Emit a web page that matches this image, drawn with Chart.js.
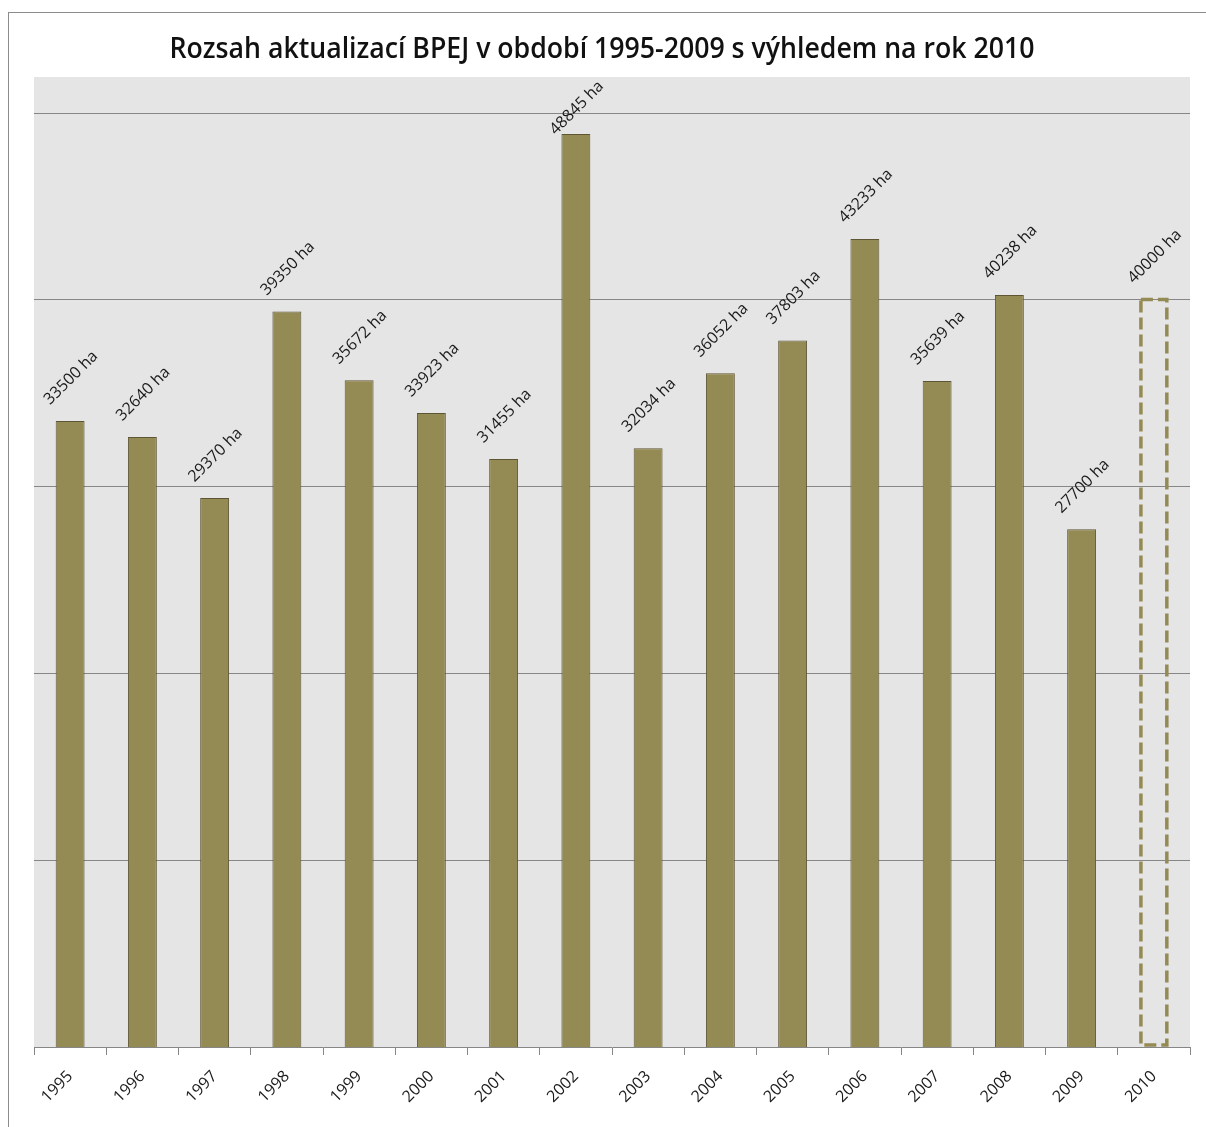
<!DOCTYPE html>
<html>
<head>
<meta charset="utf-8">
<script src="https://cdn.jsdelivr.net/npm/chart.js@4"></script>
<style>
  html, body { margin: 0; padding: 0; background: #fff; }
</style>
</head>
<body>
<canvas id="chart" width="1206" height="1127"></canvas>
<script>
const chartTitle = 'Rozsah aktualizací BPEJ v období 1995-2009 s výhledem na rok 2010';
const years = ['1995', '1996', '1997', '1998', '1999', '2000', '2001', '2002',
               '2003', '2004', '2005', '2006', '2007', '2008', '2009', '2010'];
const areas = [33500, 32640, 29370, 39350, 35672, 33923, 31455, 48845,
               32034, 36052, 37803, 43233, 35639, 40238, 27700, 40000];
const gridValues = [10000, 20000, 30000, 40000, 50000];
const planYear = '2010';
const unit = ' ha';
const yMax = 51900;

const planIdx = years.indexOf(planYear);
const olive = '#948a54';

// frame, plot background, gridlines, title, dashed forecast bar, value labels
const decor = {
    id: 'decor',
    beforeDraw(chart) {
        const c = chart.ctx, a = chart.chartArea;
        const y = chart.scales.y;
        c.save();
        c.fillStyle = '#fff';
        c.fillRect(0, 0, chart.width, chart.height);
        c.strokeStyle = '#8c8c8c';
        c.lineWidth = 1;
        c.strokeRect(8.5, 12.5, chart.width + 20, chart.height + 20);
        c.fillStyle = '#e5e5e5';
        c.fillRect(a.left, a.top, a.right - a.left, a.bottom - a.top);

        // horizontal gridlines
        c.strokeStyle = '#878787';
        c.lineWidth = 1;
        gridValues.forEach(v => {
            const py = Math.round(y.getPixelForValue(v)) + 0.5;
            c.beginPath();
            c.moveTo(a.left, py);
            c.lineTo(a.right, py);
            c.stroke();
        });

        c.font = '600 28px "Open Sans"';
        c.fillStyle = '#111';
        c.textAlign = 'center';
        c.textBaseline = 'alphabetic';
        const w = c.measureText(chartTitle).width;
        const sx = Math.min(1, 865 / w);
        c.translate(602, 58);
        c.scale(sx, 1);
        c.fillText(chartTitle, 0, 0);
        c.restore();
    },
    afterDatasetsDraw(chart) {
        const c = chart.ctx, a = chart.chartArea;
        const meta = chart.getDatasetMeta(0);
        c.save();
        const plan = meta.data[planIdx];
        if (plan) {
            const p = plan.getProps(['x', 'y', 'width', 'base'], true);
            c.strokeStyle = olive;
            c.lineWidth = 3.5;
            c.setLineDash([12, 5]);
            c.strokeRect(p.x - p.width / 2 + 1.5, p.y, p.width - 3, p.base - p.y - 2);
            c.setLineDash([]);
        }
        c.font = '16px "Open Sans"';
        c.fillStyle = '#1a1a1a';
        c.textAlign = 'center';
        c.textBaseline = 'middle';
        meta.data.forEach((bar, i) => {
            const p = bar.getProps(['x', 'y'], true);
            const cy = Math.max(p.y - 43, a.top + 31);
            c.save();
            c.translate(p.x + 1, cy);
            c.rotate(-Math.PI / 4);
            c.fillText(areas[i] + unit, 0, 0);
            c.restore();
        });
        c.restore();
    }
};

new Chart(document.getElementById('chart').getContext('2d'), {
    type: 'bar',
    data: {
        labels: years,
        datasets: [{
            data: areas,
            backgroundColor: ctx => ctx.dataIndex === planIdx ? 'rgba(0,0,0,0)' : olive,
            borderColor: '#5e5535',
            borderWidth: ctx => ctx.dataIndex === planIdx ? 0 : 1,
            barPercentage: 0.4,
            categoryPercentage: 1
        }]
    },
    options: {
        responsive: false,
        animation: false,
        events: [],
        layout: { padding: { left: 34, right: 16, top: 77, bottom: 0 } },
        plugins: {
            legend: { display: false },
            title: { display: false },
            tooltip: { enabled: false }
        },
        scales: {
            x: {
                afterFit: s => { s.height = 80; },
                grid: { drawOnChartArea: false, tickLength: 8, color: '#868686', offset: true },
                border: { color: '#868686' },
                ticks: {
                    color: '#1a1a1a',
                    font: { family: 'Open Sans', size: 16 },
                    minRotation: 45,
                    maxRotation: 45,
                    padding: 12
                }
            },
            y: {
                display: false,
                min: 0,
                max: yMax
            }
        }
    },
    plugins: [decor]
});
</script>
</body>
</html>
